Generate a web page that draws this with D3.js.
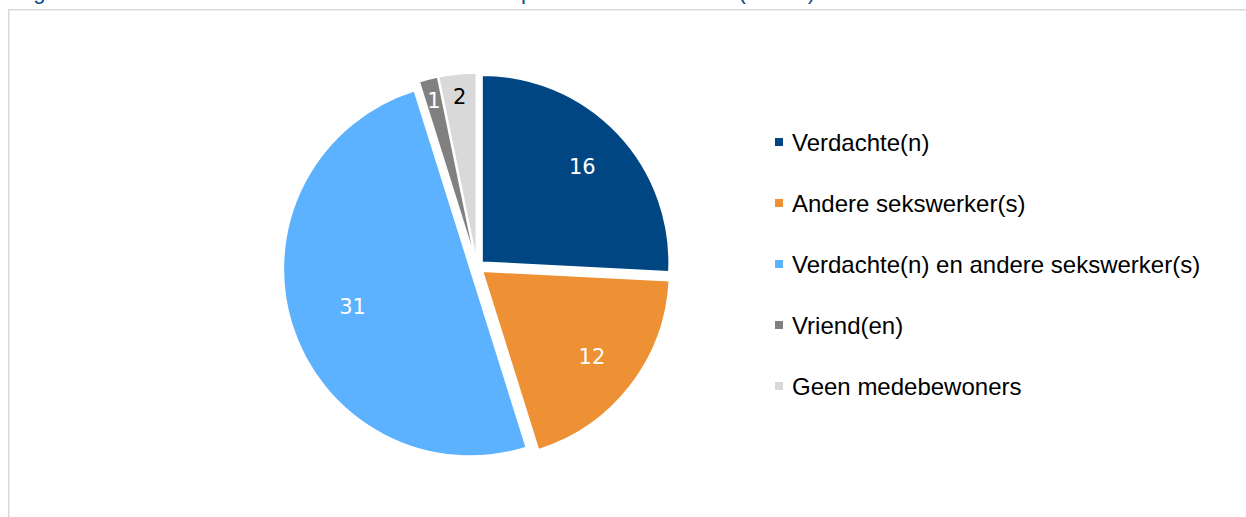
<!DOCTYPE html>
<html>
<head>
<meta charset="utf-8">
<script src="https://cdn.jsdelivr.net/npm/d3@7"></script>
<style>
  body { margin: 0; background: #fff; }
  svg { display: block; }
</style>
</head>
<body>
<div id="container"></div>
<script>
let w = 1246;
let h = 517;

// chart values
let categories = ["Verdachte(n)", "Andere sekswerker(s)", "Verdachte(n) en andere sekswerker(s)", "Vriend(en)", "Geen medebewoners"];
let values = [16, 12, 31, 1, 2];
let colors = ["#004682", "#ed9134", "#5cb2ff", "#808080", "#d9d9d9"];
let labelColors = ["#ffffff", "#ffffff", "#ffffff", "#ffffff", "#000000"];
let title = "Figuur 4.5 Medebewoners van de slachtoffers in de prostitutie naar relatie (n = 62)";

let viz = d3.select("#container")
  .append("svg")
    .attr("width", w)
    .attr("height", h)
;

// title, mostly cut off at the top of the picture (only descenders show)
viz.append("text")
  .attr("x", 15)
  .attr("y", -1)
  .attr("fill", "#0b4c8c")
  .attr("font-family", "Liberation Sans, Arial, sans-serif")
  .attr("font-size", 22)
  .text(title);

// light grey frame of the chart area
viz.append("path")
  .attr("d", "M8.75," + h + "V9.75H" + w)
  .attr("fill", "none")
  .attr("stroke", "#d9d9d9")
  .attr("stroke-width", 1.5);

// pie
let cx = 477;
let cy = 267;
let radius = 187;
let explode = 7;

let pie = d3.pie().sort(null).value(function(d){ return d; });
let arcs = pie(values);
let arc = d3.arc().innerRadius(0).outerRadius(radius);
let total = d3.sum(values);

let pieGroup = viz.append("g").attr("transform", "translate(" + cx + "," + cy + ")");

let slices = pieGroup.selectAll(".slice").data(arcs).enter()
  .append("g")
  .attr("class", "slice")
  .attr("transform", function(d){
    let a = (d.startAngle + d.endAngle) / 2;
    return "translate(" + (Math.sin(a) * explode) + "," + (-Math.cos(a) * explode) + ")";
  });

slices.append("path")
  .attr("d", arc)
  .attr("fill", function(d, i){ return colors[i]; })
  .attr("stroke", "#fff")
  .attr("stroke-width", 1.5);

// label distance from the centre depends on slice size
function labelRadius(d){
  let share = d.value / total;
  if(share < 0.05) return radius * 0.88;
  if(share > 0.4) return radius * 0.66;
  return radius * 0.74;
}

slices.append("text")
  .attr("transform", function(d){
    let a = (d.startAngle + d.endAngle) / 2;
    let r = labelRadius(d);
    return "translate(" + (Math.sin(a) * r) + "," + (-Math.cos(a) * r) + ")";
  })
  .attr("text-anchor", "middle")
  .attr("dy", "0.36em")
  .attr("fill", function(d, i){ return labelColors[i]; })
  .attr("font-family", "DejaVu Sans, sans-serif")
  .attr("font-size", 21)
  .text(function(d){ return d.value; });

// legend
let legendY = d3.scalePoint().domain(categories).range([142, 386]);

let legend = viz.append("g").attr("class", "legend");
let items = legend.selectAll(".item").data(categories).enter()
  .append("g")
  .attr("class", "item")
  .attr("transform", function(d){ return "translate(775," + legendY(d) + ")"; });

items.append("rect")
  .attr("x", 0)
  .attr("y", -4)
  .attr("width", 8)
  .attr("height", 8)
  .attr("fill", function(d, i){ return colors[i]; });

items.append("text")
  .attr("x", 17)
  .attr("dy", "0.36em")
  .attr("fill", "#000")
  .attr("font-family", "Liberation Sans, Arial, sans-serif")
  .attr("font-size", 24)
  .text(function(d){ return d; });
</script>
</body>
</html>
